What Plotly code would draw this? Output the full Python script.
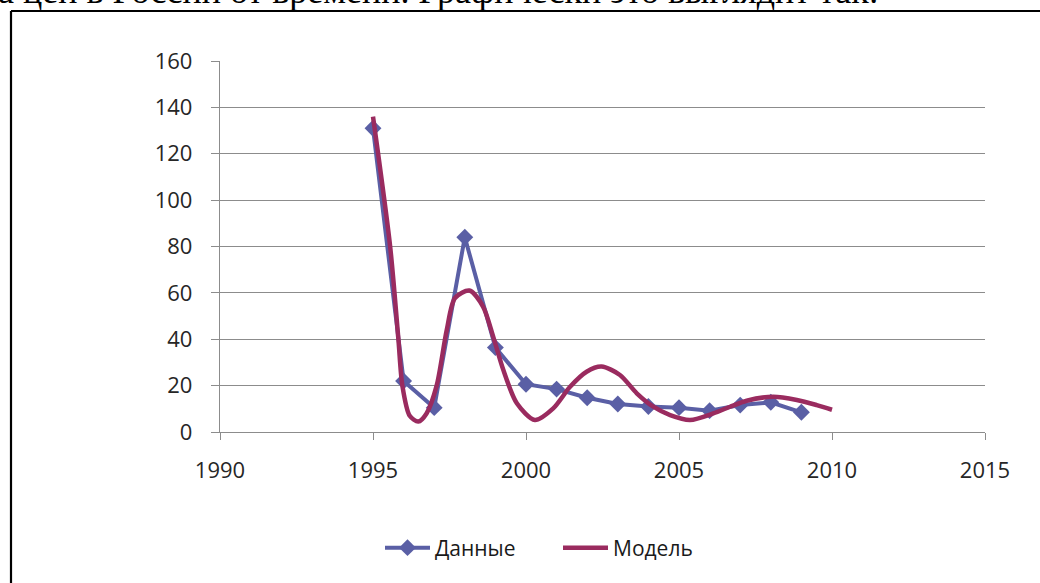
import plotly.graph_objects as go

# Данные (annual points)
data_years = [1995, 1996, 1997, 1998, 1999, 2000, 2001, 2002, 2003, 2004, 2005, 2006, 2007, 2008, 2009]
data_values = [131, 22, 10.5, 84, 36.4, 20.6, 18.5, 14.8, 12.1, 11, 10.5, 9.2, 11.6, 12.8, 8.5]

# Модель
model_years = [1995.0, 1995.56, 1995.83, 1995.96, 1996.2, 1996.48, 1996.75, 1997.08, 1997.41, 1997.68,
               1998.15, 1998.6, 1998.93, 1999.26, 1999.7, 2000.29, 2000.89, 2001.44, 2001.98, 2002.47,
               2003.07, 2003.62, 2004.16, 2004.71, 2005.36, 2006.12, 2006.67, 2007.21, 2008.08, 2008.85,
               2009.5, 2010.0]
model_values = [136, 80, 40, 20, 7, 4.5, 8, 20, 44, 57.8,
                61, 54, 41, 26.7, 12.4, 5.2, 10.2, 19.5, 26, 28.2,
                24.6, 16.7, 10.9, 7.3, 5.2, 8, 10.9, 13.5, 15.2, 13.8,
                11.6, 9.6]

x_ticks = [1990, 1995, 2000, 2005, 2010, 2015]
y_ticks = [0, 20, 40, 60, 80, 100, 120, 140, 160]

BLUE = "#5A5FA5"
RED = "#9A2B5F"
GRID = "#8C8C8C"
FONT = "Open Sans"

W, H = 1040, 583
L, R, T, B = 220, 55, 61, 151
pw, ph = W - L - R, H - T - B


def px(x):
    return (x - L) / pw


def py(y):
    return (H - B - y) / ph


fig = go.Figure()

fig.add_trace(go.Scatter(
    x=data_years, y=data_values, name="Данные",
    mode="lines+markers",
    line=dict(color=BLUE, width=4),
    marker=dict(symbol="diamond", size=13, color=BLUE),
))

fig.add_trace(go.Scatter(
    x=model_years, y=model_values, name="Модель",
    mode="lines",
    line=dict(color=RED, width=4.5, shape="spline", smoothing=0.8),
))

fig.update_layout(
    width=W, height=H,
    margin=dict(l=L, r=R, t=T, b=B),
    paper_bgcolor="white",
    plot_bgcolor="white",
    font=dict(family=FONT, size=22, color="#262626"),
    xaxis=dict(
        range=[1990, 2015], tickvals=x_ticks, showgrid=False, zeroline=False,
        showline=True, linecolor=GRID, linewidth=1.3,
        ticks="outside", ticklen=7, tickcolor=GRID, tickwidth=1.3,
        ticklabelstandoff=11,
    ),
    yaxis=dict(
        range=[0, 160], tickvals=y_ticks, showgrid=True, gridcolor=GRID, gridwidth=1.3,
        zeroline=False, showline=True, linecolor=GRID, linewidth=1.3,
        ticks="outside", ticklen=8, tickcolor=GRID, tickwidth=1.3,
        ticklabelstandoff=14,
    ),
    legend=dict(
        orientation="h", x=px(380), y=py(548), xanchor="left", yanchor="middle",
        font=dict(size=21, color="#1a1a1a"), itemwidth=45, entrywidth=118,
        bgcolor="rgba(0,0,0,0)",
    ),
    showlegend=True,
)

# frame of the embedded chart
fig.add_shape(type="line", xref="paper", yref="paper",
              x0=px(11), x1=px(1100), y0=py(11), y1=py(11),
              line=dict(color="black", width=2.2))
fig.add_shape(type="line", xref="paper", yref="paper",
              x0=px(11), x1=px(11), y0=py(11), y1=py(700),
              line=dict(color="black", width=2.2))

# cut-off line of the document text above the chart
fig.add_annotation(
    text="а цен в России от времени. Графически это выглядит так:",
    xref="paper", yref="paper", x=px(-4), y=py(13),
    xanchor="left", yanchor="bottom", showarrow=False,
    font=dict(family="Liberation Serif", size=36, color="black"),
)

fig.write_html(
    "out.html",
    config={"displayModeBar": False},
    post_script="document.body.style.margin='0';document.body.style.overflow='hidden';",
)
